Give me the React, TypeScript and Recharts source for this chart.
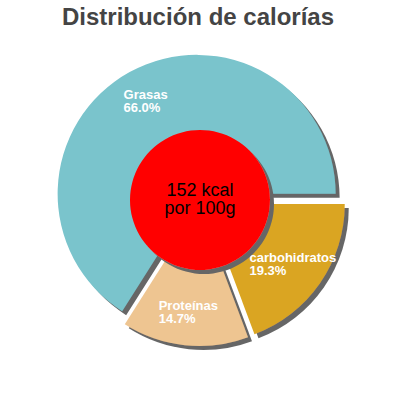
import React from "react";
import { PieChart, Pie, Cell } from "recharts";

const NAMES = ["Grasas", "Proteínas", "carbohidratos"];
const VALUES = [66.0, 14.7, 19.3];
const COLORS = ["#7ac4cc", "#eec591", "#daa520"];
const CENTER_LINES = ["152 kcal", "por 100g"];
const TITLE = "Distribución de calorías";

const data = NAMES.map((name, i) => ({ name, value: VALUES[i] }));
const total = VALUES.reduce((a, b) => a + b, 0);

// mid-angle of each slice (degrees, counter-clockwise from 3 o'clock)
const mids: number[] = [];
{
  let acc = 0;
  VALUES.forEach((v) => {
    mids.push(((acc + v / 2) / total) * 360);
    acc += v;
  });
}

const CX = 200;
const CY = 200;
const R = 139;
const EXPLODE = 7;
const RAD = Math.PI / 180;
const LABEL_FONT = "bold 13px 'Liberation Sans', Arial, sans-serif";

let ctx: CanvasRenderingContext2D | null = null;
function textWidth(s: string) {
  if (!ctx) ctx = document.createElement("canvas").getContext("2d");
  if (!ctx) return s.length * 6.7;
  ctx.font = LABEL_FONT;
  return ctx.measureText(s).width;
}

function sliceLabel(visible: number) {
  return (props: any) => {
    const { cx, cy, midAngle, index, name, value } = props;
    if (index !== visible) return null;
    const r = 106;
    const x = cx + r * Math.cos(-midAngle * RAD);
    const y = cy + r * Math.sin(-midAngle * RAD);
    const pct = `${Number(value).toFixed(1)}%`;
    const w = Math.max(textWidth(name), textWidth(pct));
    return (
      <text
        x={x - w / 2}
        y={y - 2}
        fill="#ffffff"
        fontFamily="'Liberation Sans', Arial, sans-serif"
        fontWeight="bold"
        fontSize={13}
        textAnchor="start"
      >
        <tspan x={x - w / 2} dy={0}>{name}</tspan>
        <tspan x={x - w / 2} dy={13}>{pct}</tspan>
      </text>
    );
  };
}

function centerLabel(props: any) {
  const { cx, cy } = props;
  return (
    <text
      x={cx}
      y={cy - 4}
      fill="#000"
      fontFamily="'Liberation Sans', Arial, sans-serif"
      fontSize={18}
      textAnchor="middle"
    >
      <tspan x={cx} dy={0}>{CENTER_LINES[0]}</tspan>
      <tspan x={cx} dy={18}>{CENTER_LINES[1]}</tspan>
    </text>
  );
}

export default function App() {
  return (
    <div style={{ position: "absolute", left: 0, top: 0, width: 400, height: 400 }}>
      <svg width={0} height={0} style={{ position: "absolute" }}>
        <defs>
          <filter id="shadow" x="-20%" y="-20%" width="140%" height="140%">
            <feDropShadow dx={4} dy={4} stdDeviation={0.4} floodColor="#666666" floodOpacity={1} />
          </filter>
        </defs>
      </svg>
      <PieChart width={400} height={400} margin={{ top: 0, right: 0, bottom: 0, left: 0 }}>
        {data.map((_, k) => (
          <Pie
            key={k}
            data={data}
            dataKey="value"
            nameKey="name"
            cx={CX + EXPLODE * Math.cos(mids[k] * RAD)}
            cy={CY - EXPLODE * Math.sin(mids[k] * RAD)}
            startAngle={0}
            endAngle={360}
            innerRadius={0}
            outerRadius={R}
            stroke="none"
            labelLine={false}
            label={sliceLabel(k)}
            isAnimationActive={false}
          >
            {data.map((_, i) => (
              <Cell
                key={i}
                fill={i === k ? COLORS[i] : "none"}
                filter={i === k ? "url(#shadow)" : undefined}
              />
            ))}
          </Pie>
        ))}
        <Pie
          data={[{ name: "kcal", value: 1 }]}
          dataKey="value"
          cx={CX}
          cy={CY}
          outerRadius={70}
          stroke="none"
          labelLine={false}
          label={centerLabel}
          isAnimationActive={false}
        >
          <Cell fill="#ff0000" filter="url(#shadow)" />
        </Pie>
      </PieChart>
      <svg
        width={400}
        height={40}
        style={{ position: "absolute", left: 0, top: 0, pointerEvents: "none" }}
      >
        <text
          x={198}
          y={25}
          textAnchor="middle"
          fill="#444444"
          fontFamily="'Liberation Sans', Arial, sans-serif"
          fontWeight="bold"
          fontSize={24}
        >
          {TITLE}
        </text>
      </svg>
    </div>
  );
}
